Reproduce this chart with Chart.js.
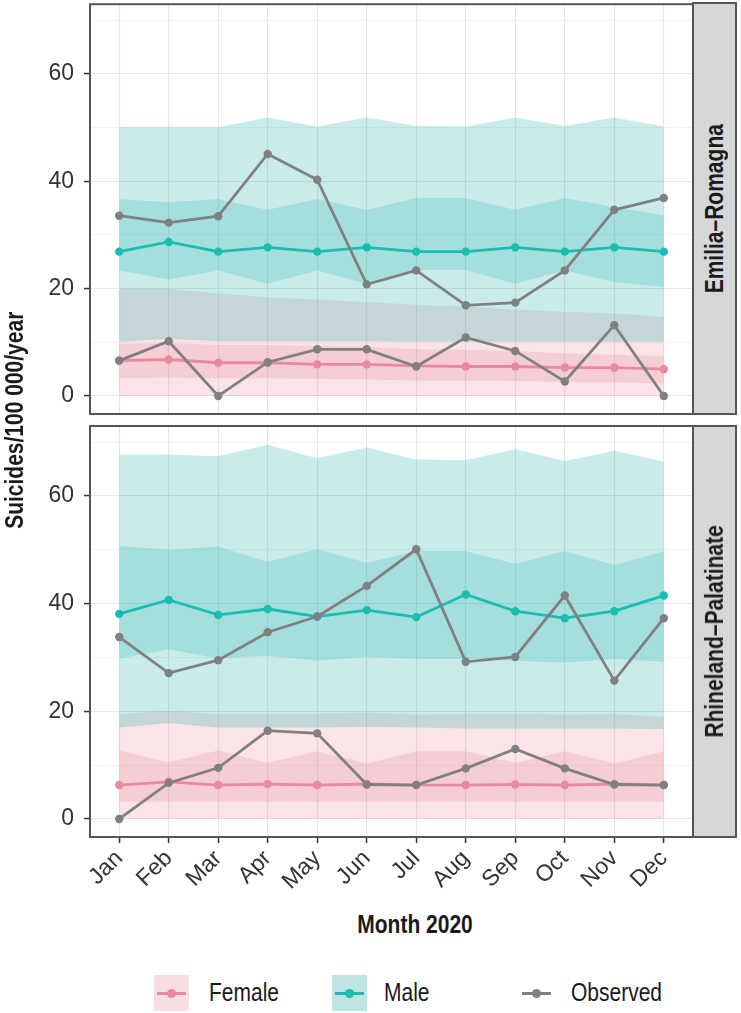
<!DOCTYPE html>
<html>
<head>
<meta charset="utf-8">
<script src="https://cdn.jsdelivr.net/npm/chart.js@4.4.1/dist/chart.umd.min.js"></script>
<style>
  body { margin: 0; background: #fff; }
  #wrap { position: relative; width: 741px; height: 1013px; overflow: hidden;
          font-family: "Liberation Sans", Arial, sans-serif; color: #1a1a1a; }
  canvas { position: absolute; left: 0; }
  .strip { position: absolute; left: 692px; width: 45px; box-sizing: border-box;
           background: #D6D7D8; border: 2px solid #555;
           display: flex; align-items: center; justify-content: center; }
  .vtext { writing-mode: vertical-rl; transform: rotate(180deg) scaleY(0.84); font-weight: bold; font-size: 25px; white-space: nowrap; }
  #ytitle { position: absolute; left: 0; top: 0; width: 28px; height: 840px;
            display: flex; align-items: center; justify-content: center; }
  #xtitle { position: absolute; left: 315px; width: 200px; top: 910px; text-align: center;
            font-weight: bold; font-size: 25px; transform: scaleX(0.84); }
  .key { position: absolute; top: 975px; width: 35px; height: 36px; }
  .key .ln { position: absolute; left: 3px; right: 3px; top: 17px; height: 3px; }
  .key .pt { position: absolute; left: 13px; top: 14px; width: 9px; height: 9px; border-radius: 50%; }
  .lab { position: absolute; top: 978px; font-size: 25px; transform: scaleX(0.84); transform-origin: left center; }
</style>
</head>
<body>
<div id="wrap">
  <canvas id="chartER" width="741" height="420" style="top:0"></canvas>
  <canvas id="chartRP" width="741" height="480" style="top:420px"></canvas>

  <div class="strip" style="top:2px;height:413px"><span class="vtext">Emilia–Romagna</span></div>
  <div class="strip" style="top:425px;height:413px"><span class="vtext">Rhineland–Palatinate</span></div>

  <div id="ytitle"><span class="vtext">Suicides/100 000/year</span></div>
  <div id="xtitle">Month 2020</div>

  <div class="key" style="left:154px;background:#F8DDE2"><div class="ln" style="background:#E98A9C"></div><div class="pt" style="background:#E98A9C"></div></div>
  <div class="lab" style="left:209px">Female</div>
  <div class="key" style="left:332px;background:#BEE5E3"><div class="ln" style="background:#19BDB1"></div><div class="pt" style="background:#19BDB1"></div></div>
  <div class="lab" style="left:384px">Male</div>
  <div class="key" style="left:519px"><div class="ln" style="background:#808080"></div><div class="pt" style="background:#808080"></div></div>
  <div class="lab" style="left:571px">Observed</div>
</div>

<script>
// --- Data ---
const months = ["Jan", "Feb", "Mar", "Apr", "May", "Jun", "Jul", "Aug", "Sep", "Oct", "Nov", "Dec"];
const yMajorTicks = [0, 20, 40, 60];
const yMinorTicks = [10, 30, 50, 70];

// Emilia–Romagna
const erObsMale        = [33.6, 32.3, 33.5, 45.1, 40.3, 20.8, 23.4, 16.9, 17.4, 23.4, 34.7, 36.9];
const erObsFemale      = [6.6, 10.2, 0.0, 6.3, 8.7, 8.7, 5.5, 10.9, 8.4, 2.7, 13.2, 0.0];
const erMale           = [26.9, 28.7, 26.9, 27.7, 26.9, 27.7, 26.9, 26.9, 27.7, 26.9, 27.7, 26.9];
const erFemale         = [6.6, 6.8, 6.2, 6.2, 5.9, 5.9, 5.6, 5.5, 5.5, 5.3, 5.3, 5.0];
const erMaleOuterHi    = [50.1, 50.1, 50.1, 51.9, 50.2, 51.9, 50.3, 50.2, 51.9, 50.3, 51.9, 50.2];
const erMaleOuterLo    = [10.1, 10.6, 10.2, 10.2, 10.2, 10.2, 10.1, 10.1, 10.1, 10.1, 10.1, 10.1];
const erMaleInnerHi    = [36.7, 36.1, 36.7, 34.7, 36.7, 34.7, 36.9, 36.9, 34.7, 36.9, 35.2, 33.7];
const erMaleInnerLo    = [23.4, 21.7, 23.4, 20.9, 23.4, 20.9, 23.5, 23.5, 20.9, 23.4, 21.2, 20.3];
const erFemaleOuterHi  = [20.0, 20.0, 19.1, 18.4, 18.0, 17.5, 17.0, 16.7, 16.1, 15.7, 15.4, 14.7];
const erFemaleOuterLo  = [0, 0, 0, 0, 0, 0, 0, 0, 0, 0, 0, 0];
const erFemaleInnerHi  = [9.7, 9.9, 9.5, 9.5, 9.3, 9.2, 8.7, 8.6, 8.4, 7.9, 7.7, 7.4];
const erFemaleInnerLo  = [3.3, 3.4, 3.3, 3.3, 3.2, 3.1, 2.9, 2.9, 2.8, 2.6, 2.5, 2.4];

// Rhineland–Palatinate
const rpObsMale        = [33.8, 27.1, 29.5, 34.7, 37.6, 43.3, 50.1, 29.2, 30.1, 41.5, 25.7, 37.3];
const rpObsFemale      = [0.0, 6.7, 9.5, 16.4, 15.9, 6.4, 6.3, 9.4, 13.0, 9.4, 6.4, 6.3];
const rpMale           = [38.1, 40.7, 37.9, 39.0, 37.6, 38.8, 37.5, 41.7, 38.6, 37.3, 38.6, 41.5];
const rpFemale         = [6.3, 6.9, 6.3, 6.5, 6.3, 6.5, 6.3, 6.3, 6.4, 6.3, 6.5, 6.3];
const rpMaleOuterHi    = [67.7, 67.7, 67.4, 69.5, 67.0, 69.0, 66.8, 66.7, 68.7, 66.5, 68.4, 66.4];
const rpMaleOuterLo    = [17.0, 17.8, 17.0, 17.0, 17.0, 17.1, 17.0, 16.8, 16.8, 16.8, 16.8, 16.7];
const rpMaleInnerHi    = [50.7, 50.0, 50.6, 47.8, 50.1, 47.6, 49.8, 49.8, 47.4, 49.8, 47.2, 49.7];
const rpMaleInnerLo    = [29.8, 31.5, 29.8, 30.3, 29.4, 30.1, 29.7, 29.7, 29.4, 29.0, 29.7, 29.2];
const rpFemaleOuterHi  = [19.5, 20.1, 19.5, 19.6, 19.6, 19.8, 19.4, 19.5, 19.6, 19.4, 19.5, 19.0];
const rpFemaleOuterLo  = [0, 0, 0, 0, 0, 0, 0, 0, 0, 0, 0, 0];
const rpFemaleInnerHi  = [12.7, 10.5, 12.7, 10.4, 12.6, 10.3, 12.6, 12.6, 10.4, 12.6, 10.3, 12.6];
const rpFemaleInnerLo  = [3.2, 3.2, 3.2, 3.2, 3.2, 3.2, 3.2, 3.2, 3.2, 3.2, 3.2, 3.2];

// --- Styles ---
const COL_OBS    = "#808080";
const COL_MALE   = "#19BDB1";
const COL_FEMALE = "#E98A9C";
const FILL_MALE_OUTER   = "rgba(0, 165, 162, 0.21)";
const FILL_MALE_INNER   = "rgba(0, 165, 162, 0.18)";
const FILL_FEMALE_OUTER = "rgba(230, 130, 150, 0.22)";
const FILL_FEMALE_INNER = "rgba(230, 130, 150, 0.24)";

Chart.defaults.font.family = '"Liberation Sans", Arial, sans-serif';
Chart.defaults.font.size   = 23;
Chart.defaults.color       = "#333";

const toPts = arr => arr.map((v, i) => ({ x: i, y: v }));

function lineSet(data, color, order) {
  return {
    data: toPts(data), borderColor: color, backgroundColor: color,
    borderWidth: 2.8, pointRadius: 4.2, pointBorderWidth: 0, fill: false, order
  };
}
function bandLo(data, order) {
  return { data: toPts(data), borderWidth: 0, pointRadius: 0, fill: false, order };
}
function bandHi(data, fillColor, order) {
  return { data: toPts(data), borderWidth: 0, pointRadius: 0, fill: "-1", backgroundColor: fillColor, order };
}

const panelBorder = {
  id: "panelBorder",
  afterDatasetsDraw(chart) {
    const { ctx, chartArea: a } = chart;
    ctx.save();
    ctx.strokeStyle = "#555";
    ctx.lineWidth = 2;
    ctx.strokeRect(a.left, a.top, a.right - a.left, a.bottom - a.top);
    ctx.restore();
  }
};

function buildPanel(canvasId, d, showX) {
  const datasets = [
    lineSet(d.obsMale, COL_OBS, 0),
    lineSet(d.obsFemale, COL_OBS, 0),
    lineSet(d.male, COL_MALE, 1),
    lineSet(d.female, COL_FEMALE, 1),
    bandLo(d.maleInnerLo, 3),     bandHi(d.maleInnerHi, FILL_MALE_INNER, 3),
    bandLo(d.maleOuterLo, 4),     bandHi(d.maleOuterHi, FILL_MALE_OUTER, 4),
    bandLo(d.femaleInnerLo, 5),   bandHi(d.femaleInnerHi, FILL_FEMALE_INNER, 5),
    bandLo(d.femaleOuterLo, 6),   bandHi(d.femaleOuterHi, FILL_FEMALE_OUTER, 6),
  ];

  return new Chart(document.getElementById(canvasId), {
    type: "line",
    data: { datasets },
    options: {
      responsive: false,
      animation: false,
      layout: { padding: { top: showX ? 6 : 3, right: 48, left: 0, bottom: 0 } },
      plugins: { legend: { display: false }, tooltip: { enabled: false } },
      scales: {
        x: {
          type: "linear", min: -0.59, max: 11.59,
          afterBuildTicks: s => { s.ticks = months.map((m, i) => ({ value: i })); },
          afterFit: s => { s.height = showX ? 63 : 6; s.paddingLeft = 0; s.paddingRight = 0; },
          border: { display: false },
          grid: {
            color: "#E6E6E6", lineWidth: 1.1,
            drawTicks: showX, tickLength: 6, tickColor: "#333", tickWidth: 1.5
          },
          ticks: {
            display: showX, autoSkip: false, minRotation: 45, maxRotation: 45, padding: 2,
            callback: v => months[v]
          }
        },
        y: {
          min: -3.35, max: 73,
          afterBuildTicks: s => {
            s.ticks = [...yMajorTicks, ...yMinorTicks].sort((a, b) => a - b).map(v => ({ value: v }));
          },
          afterFit: s => { s.width = 90; s.paddingTop = 0; s.paddingBottom = 0; },
          border: { display: false },
          grid: {
            color: c => yMajorTicks.includes(c.tick.value) ? "#E6E6E6" : "#F0F0F0",
            lineWidth: c => yMajorTicks.includes(c.tick.value) ? 1.1 : 0.8,
            tickLength: 6, tickWidth: 1.5,
            tickColor: c => yMajorTicks.includes(c.tick.value) ? "#333" : "rgba(0,0,0,0)"
          },
          ticks: {
            padding: 10,
            callback: v => yMajorTicks.includes(v) ? String(v) : ""
          }
        }
      }
    },
    plugins: [panelBorder]
  });
}

buildPanel("chartER", {
  obsMale: erObsMale, obsFemale: erObsFemale, male: erMale, female: erFemale,
  maleOuterHi: erMaleOuterHi, maleOuterLo: erMaleOuterLo, maleInnerHi: erMaleInnerHi, maleInnerLo: erMaleInnerLo,
  femaleOuterHi: erFemaleOuterHi, femaleOuterLo: erFemaleOuterLo, femaleInnerHi: erFemaleInnerHi, femaleInnerLo: erFemaleInnerLo
}, false);

buildPanel("chartRP", {
  obsMale: rpObsMale, obsFemale: rpObsFemale, male: rpMale, female: rpFemale,
  maleOuterHi: rpMaleOuterHi, maleOuterLo: rpMaleOuterLo, maleInnerHi: rpMaleInnerHi, maleInnerLo: rpMaleInnerLo,
  femaleOuterHi: rpFemaleOuterHi, femaleOuterLo: rpFemaleOuterLo, femaleInnerHi: rpFemaleInnerHi, femaleInnerLo: rpFemaleInnerLo
}, true);
</script>
</body>
</html>
